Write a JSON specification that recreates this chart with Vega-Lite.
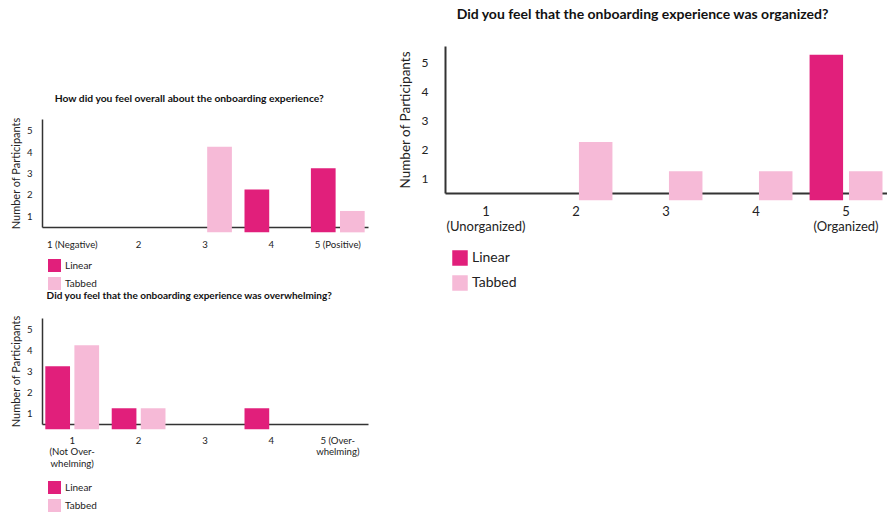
{
  "$schema": "https://vega.github.io/schema/vega-lite/v6.json",
  "padding": {"left": 10, "top": 8, "right": 0, "bottom": 0},
  "background": "white",
  "datasets": {
    "overall": [
      {"rating": 3, "design": "Tabbed", "count": 4},
      {"rating": 4, "design": "Linear", "count": 2},
      {"rating": 5, "design": "Linear", "count": 3},
      {"rating": 5, "design": "Tabbed", "count": 1}
    ],
    "overwhelming": [
      {"rating": 1, "design": "Linear", "count": 3},
      {"rating": 1, "design": "Tabbed", "count": 4},
      {"rating": 2, "design": "Linear", "count": 1},
      {"rating": 2, "design": "Tabbed", "count": 1},
      {"rating": 4, "design": "Linear", "count": 1}
    ],
    "organized": [
      {"rating": 2, "design": "Tabbed", "count": 2},
      {"rating": 3, "design": "Tabbed", "count": 1},
      {"rating": 4, "design": "Tabbed", "count": 1},
      {"rating": 5, "design": "Linear", "count": 5},
      {"rating": 5, "design": "Tabbed", "count": 1}
    ],
    "empty": []
  },
  "config": {
    "font": "Lato",
    "view": {"stroke": null},
    "title": {"font": "Lato", "fontWeight": "bold", "color": "#111", "anchor": "middle", "frame": "bounds"},
    "axis": {"grid": false, "ticks": false, "domainColor": "#333", "labelColor": "#222", "titleColor": "#222", "labelFont": "Lato", "titleFont": "Lato", "titleFontWeight": "normal"},
    "legend": {"labelFont": "Lato", "labelColor": "#222"}
  },
  "resolve": {"scale": {"color": "independent", "xOffset": "independent"}, "legend": {"color": "independent"}},
  "spacing": 30,
  "hconcat": [
    {
      "spacing": 0,
      "resolve": {"scale": {"color": "independent", "xOffset": "independent"}, "legend": {"color": "independent"}},
      "vconcat": [
        {
          "width": 326,
          "height": 47,
          "data": {"name": "empty"},
          "mark": {"type": "point", "opacity": 0}
        },
        {
          "width": 326,
          "height": 108,
          "data": {"name": "overall"},
          "title": {"text": "How did you feel overall about the onboarding experience?", "fontSize": 10.3, "offset": 13},
          "mark": {"type": "bar"},
          "encoding": {
            "x": {
              "field": "rating", "type": "nominal",
              "scale": {"domain": [1, 2, 3, 4, 5], "paddingInner": 0.19, "paddingOuter": 0.05},
              "axis": {"title": null, "labelAngle": 0, "labelFontSize": 9.6, "labelPadding": 12, "domainWidth": 1.5,
                "labelExpr": "datum.value == 1 ? '1 (Negative)' : datum.value == 5 ? '5 (Positive)' : datum.label"}
            },
            "xOffset": {"field": "design", "type": "nominal", "scale": {"domain": ["Linear", "Tabbed"], "paddingInner": 0.15, "paddingOuter": 0}},
            "y": {
              "field": "count", "type": "quantitative",
              "scale": {"domain": [0.25, 5.3], "zero": false, "nice": false},
              "axis": {"title": "Number of Participants", "titleFontSize": 11, "titlePadding": 5, "labelFontSize": 9.6, "labelPadding": 10, "domainWidth": 1.5,
                "values": [0.75, 1.75, 2.75, 3.75, 4.75], "labelExpr": "format(datum.value + 0.25, 'd')"}
            },
            "color": {
              "field": "design", "type": "nominal",
              "scale": {"domain": ["Linear", "Tabbed"], "range": ["#E11F7B", "#F6BAD7"]},
              "legend": {"title": null, "orient": "bottom", "direction": "vertical", "symbolType": "square", "symbolSize": 169, "symbolStrokeWidth": 0, "symbolOffset": 6, "labelFontSize": 10, "rowPadding": 5, "offset": 10, "padding": 0}
            }
          }
        },
        {
          "width": 326,
          "height": 106,
          "data": {"name": "overwhelming"},
          "title": {"text": "Did you feel that the onboarding experience was overwhelming?", "fontSize": 10, "offset": 14},
          "mark": {"type": "bar"},
          "encoding": {
            "x": {
              "field": "rating", "type": "nominal",
              "scale": {"domain": [1, 2, 3, 4, 5], "paddingInner": 0.19, "paddingOuter": 0.05},
              "axis": {"title": null, "labelAngle": 0, "labelFontSize": 9.6, "labelPadding": 11, "labelLineHeight": 11.5, "domainWidth": 1.5,
                "labelExpr": "datum.value == 1 ? ['1', '(Not Over-', 'whelming)'] : datum.value == 5 ? ['5 (Over-', 'whelming)'] : datum.label"}
            },
            "xOffset": {"field": "design", "type": "nominal", "scale": {"domain": ["Linear", "Tabbed"], "paddingInner": 0.15, "paddingOuter": 0}},
            "y": {
              "field": "count", "type": "quantitative",
              "scale": {"domain": [0.25, 5.3], "zero": false, "nice": false},
              "axis": {"title": "Number of Participants", "titleFontSize": 11, "titlePadding": 5, "labelFontSize": 9.6, "labelPadding": 10, "domainWidth": 1.5,
                "values": [0.75, 1.75, 2.75, 3.75, 4.75], "labelExpr": "format(datum.value + 0.25, 'd')"}
            },
            "color": {
              "field": "design", "type": "nominal",
              "scale": {"domain": ["Linear", "Tabbed"], "range": ["#E11F7B", "#F6BAD7"]},
              "legend": {"title": null, "orient": "bottom", "direction": "vertical", "symbolType": "square", "symbolSize": 169, "symbolStrokeWidth": 0, "symbolOffset": 6, "labelFontSize": 10, "rowPadding": 5, "offset": 13, "padding": 0}
            }
          }
        }
      ]
    },
    {
      "width": 442,
      "height": 147,
      "data": {"name": "organized"},
      "title": {"text": "Did you feel that the onboarding experience was organized?", "fontSize": 14, "offset": 24},
      "mark": {"type": "bar"},
      "encoding": {
        "x": {
          "field": "rating", "type": "nominal",
          "scale": {"domain": [1, 2, 3, 4, 5], "paddingInner": 0.19, "paddingOuter": 0.05},
          "axis": {"title": null, "labelAngle": 0, "labelFontSize": 13, "labelPadding": 12, "labelLineHeight": 15, "domainWidth": 2,
            "labelExpr": "datum.value == 1 ? ['1', '(Unorganized)'] : datum.value == 5 ? ['5', '(Organized)'] : datum.label"}
        },
        "xOffset": {"field": "design", "type": "nominal", "scale": {"domain": ["Linear", "Tabbed"], "paddingInner": 0.15, "paddingOuter": 0}},
        "y": {
          "field": "count", "type": "quantitative",
          "scale": {"domain": [0.25, 5.3], "zero": false, "nice": false},
          "axis": {"title": "Number of Participants", "titleFontSize": 13.5, "titlePadding": 9, "labelFontSize": 12, "labelPadding": 17, "domainWidth": 2,
            "values": [0.75, 1.75, 2.75, 3.75, 4.75], "labelExpr": "format(datum.value + 0.25, 'd')"}
        },
        "color": {
          "field": "design", "type": "nominal",
          "scale": {"domain": ["Linear", "Tabbed"], "range": ["#E11F7B", "#F6BAD7"]},
          "legend": {"title": null, "orient": "bottom", "direction": "vertical", "symbolType": "square", "symbolSize": 240, "symbolStrokeWidth": 0, "labelFontSize": 14, "rowPadding": 9, "offset": 10, "padding": 7}
        }
      }
    }
  ]
}
